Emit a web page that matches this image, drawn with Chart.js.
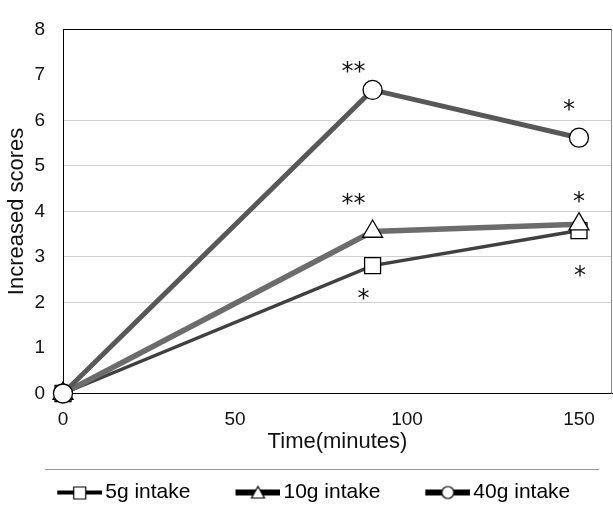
<!DOCTYPE html>
<html>
<head>
<meta charset="utf-8">
<script src="https://cdn.jsdelivr.net/npm/chart.js@4.4.1/dist/chart.umd.min.js"></script>
<style>
  html, body { margin: 0; padding: 0; background: #fff; overflow: hidden; }
  canvas { display: block; }
</style>
</head>
<body>
<canvas id="scoreChart" width="613" height="513"></canvas>
<script>
// time after intake (minutes)
const times = [0, 90, 150];
const timeTicks = [0, 50, 100, 150];

// increase of score per dose
const intake5 = [0, 2.81, 3.58];
const intake10 = [0, 3.56, 3.72];
const intake40 = [0, 6.67, 5.62];

const seriesNames = ['5g intake', '10g intake', '40g intake'];

// significance marks for each point
const marks5 = ['', '*', '*'];
const marks10 = ['', '**', '*'];
const marks40 = ['', '**', '*'];

const toPoints = (vals) => vals.map((v, i) => ({ x: times[i], y: v }));

// line + marker icons for the legend, line sits at the right end of the icon
function legendIcon(style, lineWidth) {
  const c = document.createElement('canvas');
  c.width = 68;
  c.height = 18;
  const g = c.getContext('2d');
  g.strokeStyle = '#000';
  g.lineWidth = lineWidth;
  g.beginPath();
  g.moveTo(23, 9);
  g.lineTo(68, 9);
  g.stroke();
  g.fillStyle = '#fff';
  g.lineWidth = 1.2;
  g.beginPath();
  if (style === 'rect') {
    g.rect(39.5, 3.5, 12, 12);
  } else if (style === 'triangle') {
    g.moveTo(45.5, 3);
    g.lineTo(52, 14.5);
    g.lineTo(39, 14.5);
    g.closePath();
  } else {
    g.arc(45.5, 9, 6, 0, Math.PI * 2);
  }
  g.fill();
  g.stroke();
  return c;
}

const legendIcons = [legendIcon('rect', 4), legendIcon('triangle', 6), legendIcon('circle', 6)];

// where each asterisk sits relative to its point
const markOffsets = [
  [null, [-9, 33], [1, 45]],
  [null, [-19, -28], [0, -22]],
  [null, [-19, -18], [-10, -28]]
];

const extras = {
  id: 'extras',
  afterDatasetsDraw(chart) {
    const ctx = chart.ctx;
    const area = chart.chartArea;
    ctx.save();
    // right side of the frame
    ctx.strokeStyle = '#8a8a8a';
    ctx.lineWidth = 1;
    ctx.beginPath();
    ctx.moveTo(area.right - 0.5, area.top);
    ctx.lineTo(area.right - 0.5, area.bottom);
    ctx.stroke();

    // separator above the legend
    ctx.strokeStyle = '#9a9a9a';
    ctx.beginPath();
    ctx.moveTo(45, 469.5);
    ctx.lineTo(599, 469.5);
    ctx.stroke();

    // asterisks
    ctx.fillStyle = '#111';
    ctx.font = '24px "DejaVu Sans"';
    ctx.textAlign = 'center';
    ctx.textBaseline = 'middle';
    [marks5, marks10, marks40].forEach((marks, i) => {
      const meta = chart.getDatasetMeta(i);
      marks.forEach((m, j) => {
        if (!m) return;
        const p = meta.data[j];
        const off = markOffsets[i][j];
        ctx.fillText(m, p.x + off[0], p.y + off[1] + 1);
      });
    });
    ctx.restore();
  }
};

const ctx = document.getElementById('scoreChart').getContext('2d');
new Chart(ctx, {
  type: 'line',
  data: {
    datasets: [
      {
        label: seriesNames[0],
        data: toPoints(intake5),
        borderColor: '#404040',
        borderWidth: 3.5,
        pointStyle: 'rect',
        pointRadius: 11.3,
        order: 2
      },
      {
        label: seriesNames[1],
        data: toPoints(intake10),
        borderColor: '#6c6c6c',
        borderWidth: 5.5,
        pointStyle: 'triangle',
        pointRadius: 11.5,
        order: 1
      },
      {
        label: seriesNames[2],
        data: toPoints(intake40),
        borderColor: '#585858',
        borderWidth: 5,
        pointStyle: 'circle',
        pointRadius: 9.5,
        order: 0
      }
    ]
  },
  options: {
    responsive: false,
    animation: false,
    datasets: {
      line: {
        tension: 0,
        fill: false,
        clip: false,
        pointBackgroundColor: '#fff',
        pointBorderColor: '#000',
        pointBorderWidth: 1.3
      }
    },
    layout: {
      autoPadding: false,
      padding: { top: 20, right: 1, left: 0, bottom: 0 }
    },
    scales: {
      x: {
        type: 'linear',
        min: 0,
        max: 159.6,
        afterBuildTicks(scale) {
          scale.ticks = timeTicks.map(v => ({ value: v }));
        },
        afterFit(scale) {
          scale.height = 59;
        },
        grid: { display: false, drawTicks: false },
        border: { display: true, color: '#000', width: 1 },
        ticks: {
          padding: 15,
          maxRotation: 0,
          color: '#111',
          font: { family: '"Liberation Sans"', size: 19 }
        },
        title: {
          display: true,
          text: 'Time(minutes)',
          color: '#111',
          padding: { top: 0, bottom: 0 },
          font: { family: '"Liberation Sans"', size: 22, lineHeight: 1 }
        }
      },
      y: {
        min: 0,
        max: 8,
        afterFit(scale) {
          scale.width = 63;
        },
        ticks: {
          stepSize: 1,
          padding: 18,
          color: '#111',
          font: { family: '"Liberation Sans"', size: 19 }
        },
        grid: {
          drawTicks: false,
          color(c) {
            const v = c.tick.value;
            if (v === 8) return '#000';
            if (v >= 2 && v <= 6) return '#d0d0d0';
            return 'rgba(0,0,0,0)';
          }
        },
        border: { display: true, color: '#000', width: 1 },
        title: {
          display: true,
          text: 'Increased scores',
          color: '#111',
          padding: { top: 4, bottom: 0 },
          font: { family: '"Liberation Sans"', size: 22 }
        }
      }
    },
    plugins: {
      tooltip: { enabled: false },
      legend: {
        position: 'bottom',
        align: 'center',
        labels: {
          usePointStyle: true,
          pointStyleWidth: 53,
          padding: 29.5,
          color: '#111',
          font: { family: '"Liberation Sans"', size: 21 },
          generateLabels(chart) {
            return chart.data.datasets.map((ds, i) => ({
              text: ds.label,
              pointStyle: legendIcons[i],
              fillStyle: '#fff',
              strokeStyle: '#000',
              lineWidth: 0,
              hidden: false,
              datasetIndex: i
            }));
          }
        }
      }
    }
  },
  plugins: [extras]
});
</script>
</body>
</html>
